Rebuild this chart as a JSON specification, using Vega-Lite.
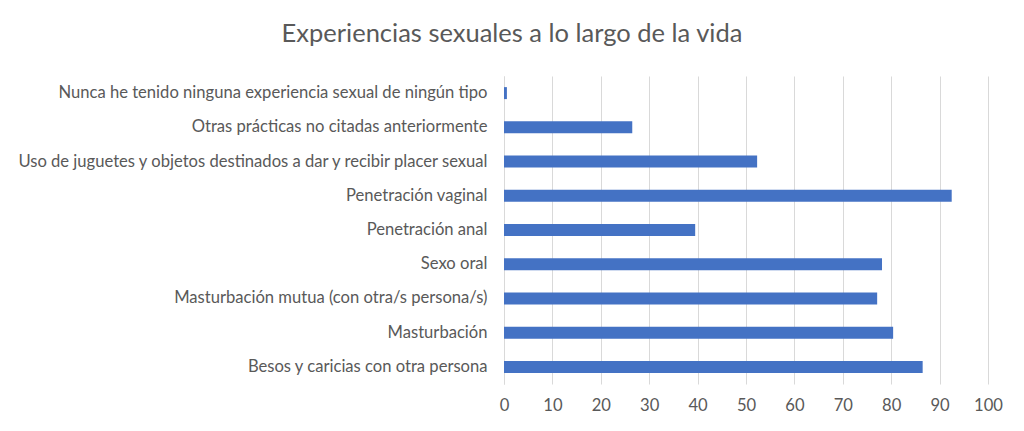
{
  "$schema": "https://vega.github.io/schema/vega-lite/v6.json",
  "autosize": {"type": "none"},
  "padding": {"left": 504, "top": 76, "right": 36, "bottom": 47},
  "width": 484,
  "height": 308,
  "background": "white",
  "title": {
    "text": "Experiencias sexuales a lo largo de la vida",
    "anchor": "middle",
    "frame": "group",
    "dx": -234,
    "offset": 29,
    "fontSize": 25.5,
    "font": "Lato",
    "fontWeight": "normal",
    "color": "#595959"
  },
  "data": {
    "values": [
      {"cat": "Nunca he tenido ninguna experiencia sexual de ningún tipo", "v": 0.6},
      {"cat": "Otras prácticas no citadas anteriormente", "v": 26.5},
      {"cat": "Uso de juguetes y objetos destinados a dar y recibir placer sexual", "v": 52.3},
      {"cat": "Penetración vaginal", "v": 92.5},
      {"cat": "Penetración anal", "v": 39.5},
      {"cat": "Sexo oral", "v": 78.1},
      {"cat": "Masturbación mutua (con otra/s persona/s)", "v": 77.1},
      {"cat": "Masturbación", "v": 80.4},
      {"cat": "Besos y caricias con otra persona", "v": 86.5}
    ]
  },
  "mark": {"type": "bar", "color": "#4472c4"},
  "encoding": {
    "y": {
      "field": "cat",
      "type": "nominal",
      "sort": null,
      "title": null,
      "scale": {"paddingInner": 0.65, "paddingOuter": 0.325},
      "axis": {
        "ticks": false,
        "domain": true,
        "domainColor": "#d9d9d9",
        "labelPadding": 17,
        "labelFont": "Lato",
        "labelFontSize": 16.6,
        "labelColor": "#595959",
        "labelLimit": 600,
        "grid": false
      }
    },
    "x": {
      "field": "v",
      "type": "quantitative",
      "title": null,
      "scale": {"domain": [0, 100]},
      "axis": {
        "values": [0, 10, 20, 30, 40, 50, 60, 70, 80, 90, 100],
        "ticks": false,
        "domain": false,
        "grid": true,
        "gridColor": "#d9d9d9",
        "labelFlush": false,
        "labelPadding": 13,
        "labelFont": "Lato",
        "labelFontSize": 16.6,
        "labelColor": "#595959"
      }
    }
  },
  "config": {"view": {"stroke": null}}
}
